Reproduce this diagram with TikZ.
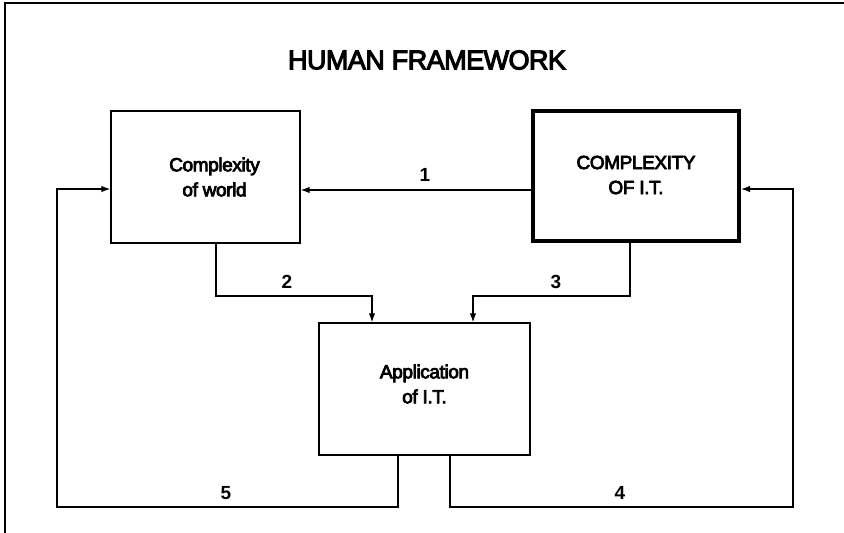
\documentclass[tikz,border=0pt]{standalone}
\usepackage{fontspec}
\setmainfont{Liberation Sans}
\newfontfamily\boldish{Liberation Sans}[UprightFeatures={FakeBold=4},LetterSpace=-2]
\usetikzlibrary{arrows.meta}
\begin{document}
\begin{tikzpicture}[x=1pt,y=-1pt,
  boxnode/.style={draw,line width=1.3pt,inner sep=0pt},
  boxtext/.style={align=center,font=\boldish\fontsize{19}{25}\selectfont},
  conn/.style={line width=1.3pt},
  arr/.style={conn,-{Latex[length=9pt,width=6.5pt]}},
  numlabel/.style={font=\bfseries\fontsize{19}{20}\selectfont}]
\useasboundingbox (0,0) rectangle (844,533);
% frame
\coordinate (ftl) at (5,3);
\coordinate (ftr) at (844,3);
\coordinate (fbl) at (5,533);
\draw[line width=1.3pt] (ftr) -- (ftl) -- (fbl);
\node[font=\boldish\fontsize{27}{30}\selectfont] (title) at (427,60) {HUMAN FRAMEWORK};
% boxes
\node[boxnode,minimum width=189pt,minimum height=132pt,
  label={[boxtext,xshift=9pt]center:{Complexity\\of world}}] (world) at (205.5,177) {};
\node[boxnode,line width=4pt,minimum width=206pt,minimum height=130pt,
  label={[boxtext,yshift=1pt]center:{COMPLEXITY\\OF I.T.}}] (it) at (636,176) {};
\node[boxnode,minimum width=211pt,minimum height=132pt,
  label={[boxtext,yshift=5pt]center:{Application\\of I.T.}}] (app) at (424.5,389) {};
% connectors
\draw[arr] (it.west |- 0,190) -- (world.east |- 0,190);
\node[numlabel] (n1) at (425,175) {1};
\draw[arr] (world.south -| 216,0) -- (216,296) -- (372,296) -- (app.north -| 372,0);
\node[numlabel] (n2) at (287,282) {2};
\draw[arr] (it.south -| 630,0) -- (630,296) -- (473,296) -- (app.north -| 473,0);
\node[numlabel] (n3) at (556,282) {3};
\draw[arr] (app.south -| 398,0) -- (398,507) -- (57,507) -- (57,189) -- (world.west |- 0,189);
\node[numlabel] (n5) at (226,493) {5};
\draw[arr] (app.south -| 450,0) -- (450,507) -- (793,507) -- (793,189) -- (it.east |- 0,189);
\node[numlabel] (n4) at (620,493) {4};
\end{tikzpicture}
\end{document}
